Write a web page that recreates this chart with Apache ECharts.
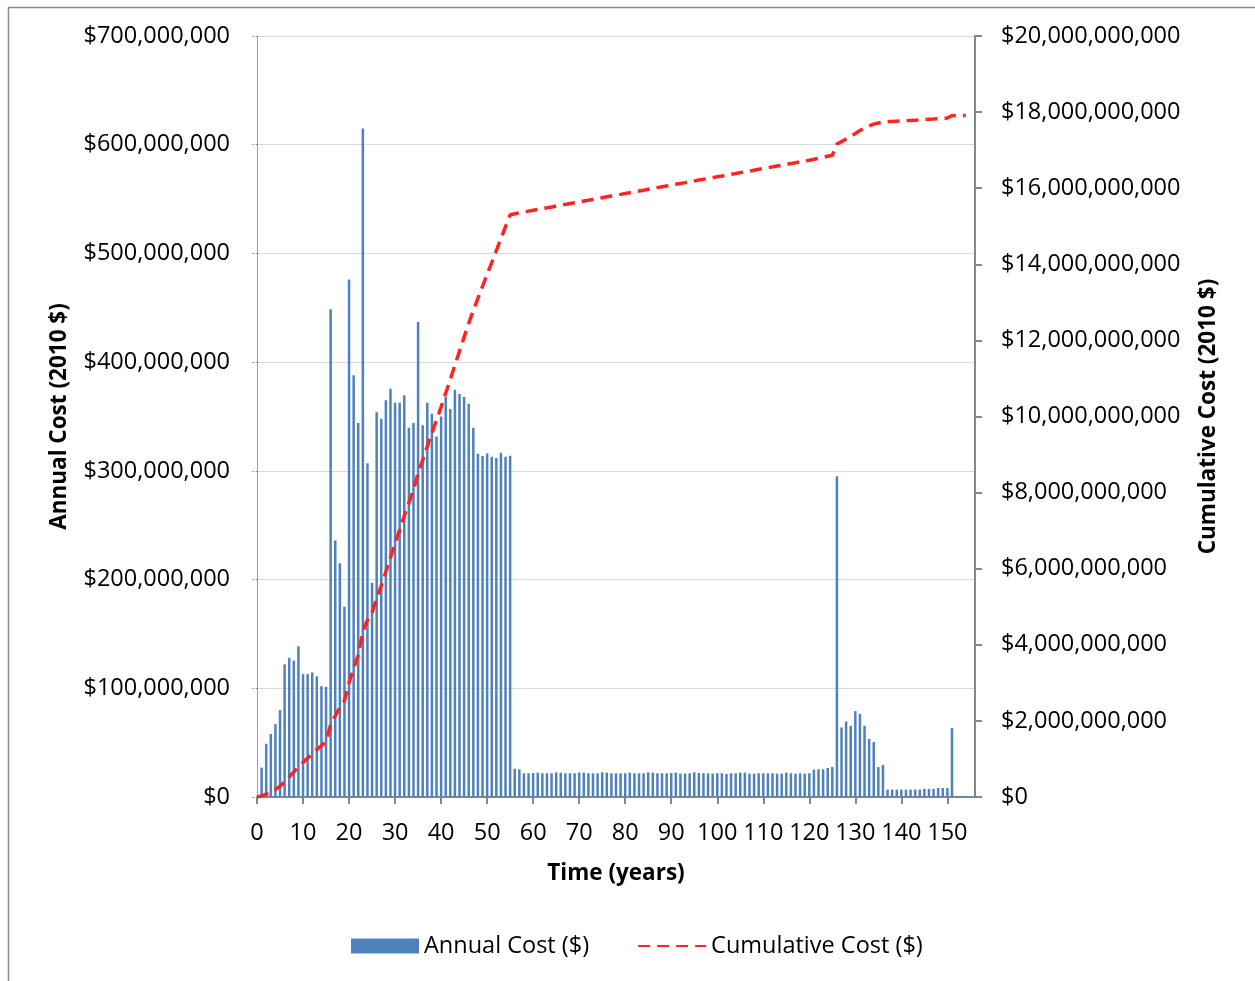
<!DOCTYPE html>
<html>
<head>
<meta charset="utf-8">
<script src="https://cdn.jsdelivr.net/npm/echarts@6/dist/echarts.min.js"></script>
<style>
html,body{margin:0;padding:0;background:#fff;}
#chart{width:1255px;height:981px;}
</style>
</head>
<body>
<div id="chart"></div>
<script>
// Years 0..156 (category axis)
const yearCategories = [];
for (let i = 0; i <= 156; i++) yearCategories.push(String(i));

// Annual cost, millions of 2010 $, index = year
const annualCostMillions = [
  0, 27, 49, 58, 67, 80, 122, 128, 125.5, 138.6,
  113, 113, 114.6, 111, 102, 101.5, 448.7, 236, 215, 175,
  476, 388, 344, 615, 307, 197, 354, 348, 365, 375.5,
  362.7, 362.7, 369.6, 339.7, 344, 437, 342, 362.7, 352.5, 331.5,
  350, 368, 357, 374.5, 370.6, 368, 361.7, 339.7, 315.7, 313.7,
  316, 313, 311.8, 316.7, 313, 314, 26, 25.5, 21.8, 21.8,
  22.1, 22.4, 21.8, 21.8, 21.8, 22.7, 22.4, 21.8, 21.8, 21.8,
  22.4, 22.4, 21.8, 21.8, 21.8, 22.7, 22.4, 21.8, 21.8, 21.8,
  21.8, 22.4, 21.8, 21.8, 21.8, 22.7, 22.4, 21.8, 21.8, 21.8,
  22.1, 22.4, 21.5, 21.5, 21.8, 22.7, 22.1, 21.8, 21.8, 21.5,
  21.8, 21.8, 21.2, 21.8, 21.8, 22.4, 22.4, 21.5, 21.5, 21.8,
  21.8, 21.8, 21.8, 21.5, 21.5, 22.4, 21.8, 21.5, 21.8, 21.5,
  21.8, 25.2, 25.5, 25.5, 26.7, 27.6, 295, 64, 69.5, 65.5,
  79, 76.5, 65.5, 53.5, 50.5, 27.5, 29.5, 6.8, 6.8, 6.8,
  6.8, 6.8, 6.8, 6.8, 6.8, 7.5, 7.5, 7.5, 8.3, 8.3,
  8.3, 63.5, 1, 1, 1, null, null
];

// Cumulative cost, billions of 2010 $, index = year
const cumulativeCostBillions = [
  0, 0.027, 0.076, 0.134, 0.201, 0.281, 0.403, 0.531, 0.657, 0.795,
  0.908, 1.021, 1.136, 1.247, 1.349, 1.450, 1.899, 2.135, 2.350, 2.525,
  3.001, 3.389, 3.733, 4.348, 4.655, 4.852, 5.206, 5.554, 5.919, 6.294,
  6.657, 7.020, 7.389, 7.729, 8.073, 8.510, 8.852, 9.215, 9.567, 9.899,
  10.249, 10.617, 10.974, 11.348, 11.719, 12.087, 12.449, 12.788, 13.104, 13.418,
  13.734, 14.047, 14.359, 14.675, 14.988, 15.302, 15.328, 15.354, 15.376, 15.397,
  15.419, 15.442, 15.464, 15.485, 15.507, 15.530, 15.552, 15.574, 15.596, 15.618,
  15.640, 15.663, 15.684, 15.706, 15.728, 15.751, 15.773, 15.795, 15.817, 15.838,
  15.860, 15.883, 15.904, 15.926, 15.948, 15.971, 15.993, 16.015, 16.037, 16.059,
  16.081, 16.103, 16.125, 16.146, 16.168, 16.191, 16.213, 16.234, 16.256, 16.278,
  16.300, 16.321, 16.343, 16.364, 16.386, 16.409, 16.431, 16.452, 16.474, 16.496,
  16.518, 16.539, 16.561, 16.583, 16.604, 16.627, 16.648, 16.670, 16.692, 16.713,
  16.735, 16.760, 16.786, 16.811, 16.838, 16.865, 17.160, 17.224, 17.294, 17.359,
  17.438, 17.515, 17.580, 17.634, 17.684, 17.712, 17.741, 17.748, 17.755, 17.762,
  17.769, 17.775, 17.782, 17.789, 17.796, 17.803, 17.811, 17.818, 17.827, 17.835,
  17.843, 17.907, 17.908, 17.909, 17.910, null, null
];

const leftAxisMax = 700000000, leftAxisStep = 100000000;
const rightAxisMax = 20000000000, rightAxisStep = 2000000000;

const FONT = "'Open Sans', 'Noto Sans', sans-serif";
const LABEL_SIZE = 23.5;
const TITLE_SIZE = 22.5;
const money = v => '$' + Math.round(v).toLocaleString('en-US');

const annualData = annualCostMillions.map(v => v == null ? null : v * 1e6);
const cumulativeData = cumulativeCostBillions.map(v => v == null ? null : v * 1e9);

const chart = echarts.init(document.getElementById('chart'), null, {renderer: 'canvas'});
chart.setOption({
  animation: false,
  backgroundColor: '#ffffff',
  textStyle: {fontFamily: FONT},
  grid: {left: 257, right: 280, top: 36, bottom: 184, containLabel: false},
  legend: {
    left: 346, top: 929,
    itemWidth: 68, itemHeight: 15, itemGap: 48,
    textStyle: {fontFamily: FONT, fontSize: LABEL_SIZE, color: '#000'},
    data: [
      {name: 'Annual Cost ($)', icon: 'rect'},
      {name: 'Cumulative Cost ($)', itemStyle: {opacity: 0}}
    ]
  },
  xAxis: {
    type: 'category',
    data: yearCategories,
    boundaryGap: false,
    name: 'Time (years)',
    nameLocation: 'middle',
    nameGap: 65,
    nameTextStyle: {fontFamily: FONT, fontSize: TITLE_SIZE, fontWeight: 'bold', color: '#000'},
    axisLine: {lineStyle: {color: '#868686', width: 2}},
    axisTick: {show: true, length: 7, inside: false, interval: (i) => i % 10 === 0, lineStyle: {color: '#868686', width: 2}},
    axisLabel: {interval: (i) => i % 10 === 0, margin: 24, fontFamily: FONT, fontSize: LABEL_SIZE, color: '#000'},
    splitLine: {show: false}
  },
  yAxis: [
    {
      type: 'value',
      min: 0, max: leftAxisMax, interval: leftAxisStep,
      name: 'Annual Cost (2010 $)',
      nameLocation: 'middle',
      nameGap: 186,
      nameRotate: 90,
      nameTextStyle: {fontFamily: FONT, fontSize: TITLE_SIZE, fontWeight: 'bold', color: '#000'},
      axisLine: {show: true, lineStyle: {color: '#8a8a8a', width: 1, type: 'dotted'}},
      axisTick: {show: true, length: 5, lineStyle: {color: '#8a8a8a', type: 'dotted'}},
      axisLabel: {margin: 27, fontFamily: FONT, fontSize: LABEL_SIZE, color: '#000', formatter: money},
      splitLine: {show: true, lineStyle: {color: '#d9d9d9', width: 1}}
    },
    {
      type: 'value',
      position: 'right',
      min: 0, max: rightAxisMax, interval: rightAxisStep,
      name: 'Cumulative Cost (2010 $)',
      nameLocation: 'middle',
      nameGap: 222,
      nameRotate: 90,
      nameTextStyle: {fontFamily: FONT, fontSize: TITLE_SIZE, fontWeight: 'bold', color: '#000'},
      axisLine: {show: true, lineStyle: {color: '#868686', width: 2}},
      axisTick: {show: true, length: 7, inside: false, lineStyle: {color: '#868686', width: 2}},
      axisLabel: {margin: 26, fontFamily: FONT, fontSize: LABEL_SIZE, color: '#000', formatter: money},
      splitLine: {show: false}
    }
  ],
  series: [
    {
      name: 'Annual Cost ($)',
      type: 'bar',
      yAxisIndex: 0,
      data: annualData,
      barWidth: 2.5,
      itemStyle: {color: '#4F81BD'}
    },
    {
      name: 'Cumulative Cost ($)',
      type: 'line',
      yAxisIndex: 1,
      data: cumulativeData,
      symbol: 'none',
      z: 5,
      lineStyle: {color: '#FF2424', width: 3.5, type: [12, 7]},
      itemStyle: {color: '#FF2424'}
    }
  ],
  graphic: [
    {
      type: 'polyline',
      silent: true,
      shape: {points: [[8.5, 981], [8.5, 7.5], [1255, 7.5]]},
      style: {stroke: '#8c8c8c', lineWidth: 1.5, fill: null}
    }
  ]
});
</script>
</body>
</html>
